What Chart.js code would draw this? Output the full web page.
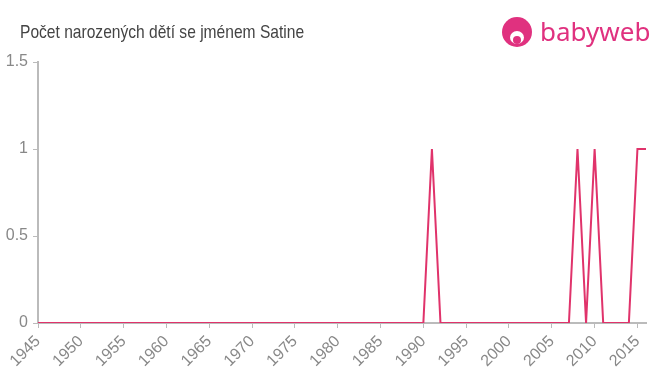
<!DOCTYPE html>
<html lang="cs">
<head>
  <meta charset="UTF-8" />
  <title>Počet narozených dětí se jménem Satine</title>
  <script src="https://cdn.jsdelivr.net/npm/chart.js"></script>
  <style>
    body { margin: 0; background: #fff; font-family: "Liberation Sans", Arial, sans-serif; }
    .wrap { position: relative; width: 660px; height: 375px; }
    .title { position: absolute; left: 20px; top: 21px; font-size: 19px; color: #444; transform: scaleX(0.82); transform-origin: left top; white-space: nowrap; }
    .logo { position: absolute; left: 502px; top: 16px; height: 32px; display: flex; align-items: center; }
    .logo .face { width: 30px; height: 30px; border-radius: 50%; background: #e0317f; position: relative; }
    .logo .face::after { content: ""; position: absolute; left: 8px; top: 14px; width: 14px; height: 13px; border-radius: 50%; background: #fff; }
    .logo .face::before { content: ""; position: absolute; left: 11px; top: 19px; width: 8px; height: 8px; border-radius: 50%; background: #e0317f; z-index: 1; }
    .logo .txt { margin-left: 8px; font-family: "Noto Sans", sans-serif; font-size: 26px; color: #e0317f; line-height: 1; margin-top: -3px; }
    canvas { position: absolute; left: 0; top: 0; }
  </style>
</head>
<body>
  <div class="wrap">
    <canvas id="chart" width="660" height="375"></canvas>
    <div class="title">Počet narozených dětí se jménem Satine</div>
    <div class="logo"><div class="face"></div><div class="txt">babyweb</div></div>
  </div>

  <script>
    const years = [];
    for (let y = 1945; y <= 2016; y++) years.push(y);
    // roky s jedním narozeným dítětem, ostatní nula
    const oneYears = [1991, 2008, 2010, 2015, 2016];
    const counts = years.map(y => oneYears.includes(y) ? 1 : 0);
    const yTicks = [0, 0.5, 1, 1.5];

    const axisColor = "#bbb";
    const tickFont = { family: "'Liberation Sans', Arial, sans-serif", size: 16 };

    new Chart(document.getElementById("chart").getContext("2d"), {
      type: "line",
      data: {
        datasets: [{
          data: years.map((y, i) => ({ x: y, y: counts[i] })),
          borderColor: "#e0336b",
          borderWidth: 2,
          pointRadius: 0,
          tension: 0,
          fill: false
        }]
      },
      options: {
        responsive: false,
        animation: false,
        layout: { padding: { left: 0, top: 62, right: 14, bottom: 0 } },
        plugins: { legend: { display: false }, tooltip: { enabled: false } },
        scales: {
          x: {
            type: "linear",
            min: 1945, max: 2016,
            afterFit: s => { s.height = 52; },
            grid: { drawOnChartArea: false, color: axisColor, tickLength: 5, tickColor: axisColor },
            border: { color: axisColor, width: 2 },
            ticks: {
              stepSize: 5,
              includeBounds: false,
              autoSkip: false,
              maxRotation: 45, minRotation: 45,
              color: "#888",
              font: tickFont,
              padding: 4,
              callback: v => String(v)
            }
          },
          y: {
            min: yTicks[0], max: yTicks[yTicks.length - 1],
            afterFit: s => { s.width = 38; },
            afterBuildTicks: s => { s.ticks = yTicks.map(v => ({ value: v })); },
            grid: { drawOnChartArea: false, color: axisColor, tickLength: 5, tickColor: axisColor },
            border: { color: axisColor, width: 2 },
            ticks: { color: "#888", font: tickFont, padding: 5, callback: v => String(v) }
          }
        }
      }
    });
  </script>
</body>
</html>
